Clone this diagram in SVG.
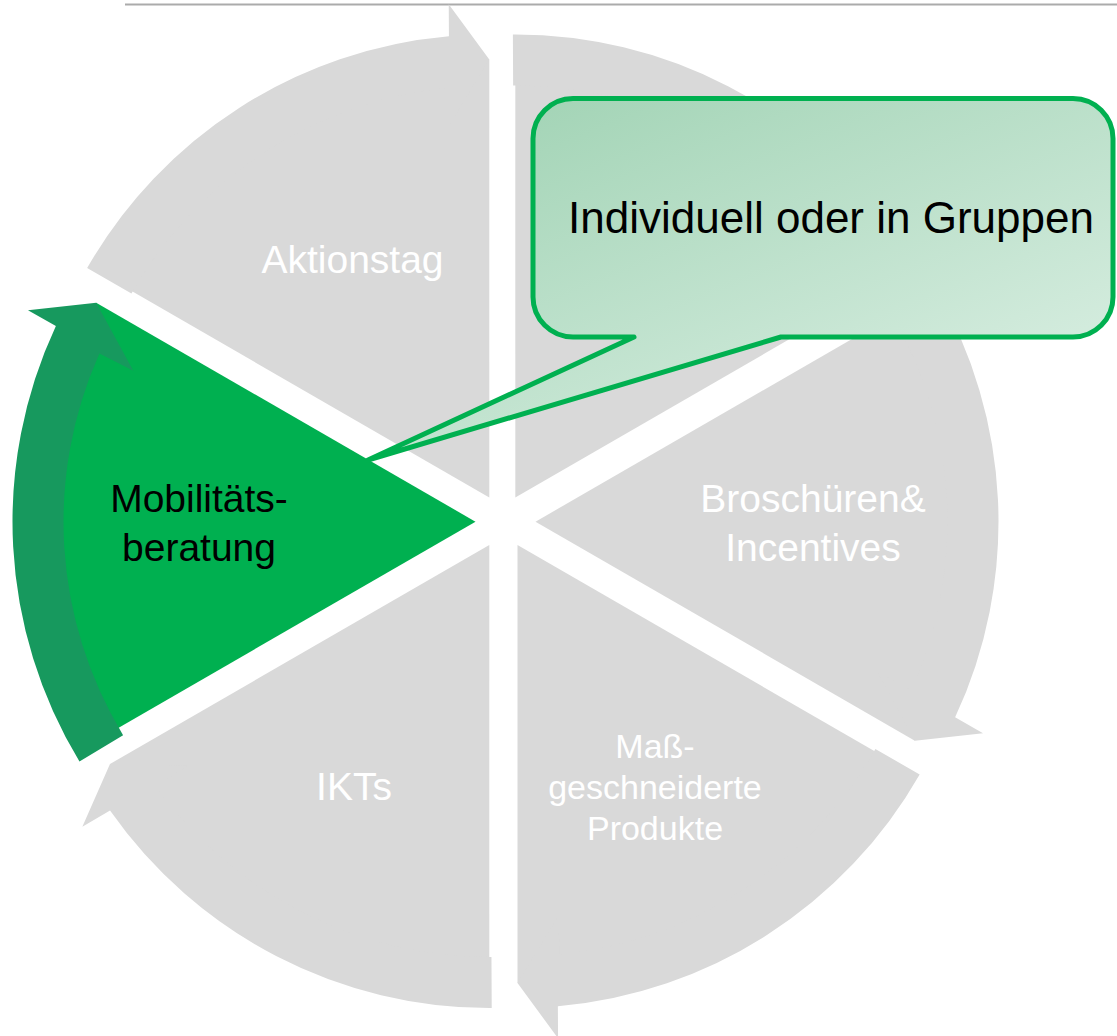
<svg xmlns="http://www.w3.org/2000/svg" width="1117" height="1036" viewBox="0 0 1117 1036">
<style>
.seg{fill:#D9D9D9}
.lbl{font-family:"Liberation Sans",Arial,sans-serif;font-size:39px;fill:#FFFFFF;text-anchor:middle}
.sm{font-size:34px}
.dark{fill:#000000}
.call{fill:url(#cg);stroke:#00B050;stroke-width:5;stroke-linejoin:round}
</style>
<defs>
<path id="pie" d="M0,0 L438,0 A438,438 0 0 1 219,379.32 Z"/>
<path id="band" d="M462.99,-2.42 A463,463 0 0 1 265.57,379.26 L281.79,406.96 L219,379.32 L220.89,301.80 L241.58,333.74 A412,412 0 0 0 411.99,-2.16 Z"/>
<path id="bandG" d="M462.90,-9.70 A463,463 0 0 1 265.57,379.26 L281.79,406.96 L219,379.32 L220.89,301.80 L241.58,333.74 A412,412 0 0 0 411.91,-8.63 Z"/>
<linearGradient id="cg" gradientUnits="userSpaceOnUse" x1="533" y1="98" x2="695" y2="504">
<stop offset="0" stop-color="#A3D4B6"/>
<stop offset="1" stop-color="#D4ECDE"/>
</linearGradient>
</defs>
<g id="top-rule"><line x1="125" y1="4.5" x2="1117" y2="4.5" stroke="#ABABAB" stroke-width="2"/></g>
<g id="node-top-right">
<g transform="translate(515.3,497.5) rotate(270)"><use href="#pie" class="seg"/><use href="#band" class="seg"/></g>
</g>
<g id="node-broschueren">
<g transform="translate(535.5,521.7) rotate(330)"><use href="#pie" class="seg"/><use href="#band" class="seg"/></g>
<text class="lbl" x="813" y="512">Broschüren&amp;</text>
<text class="lbl" x="813" y="561">Incentives</text>
</g>
<g id="node-massgeschneidert">
<g transform="translate(517.5,545) rotate(30)"><use href="#pie" class="seg"/><use href="#band" class="seg"/></g>
<text class="lbl sm" x="655" y="758">Maß-</text>
<text class="lbl sm" x="655" y="799">geschneiderte</text>
<text class="lbl sm" x="655" y="840">Produkte</text>
</g>
<g id="node-ikts">
<g transform="translate(489.3,545) rotate(90)"><use href="#pie" class="seg"/><use href="#band" class="seg"/></g>
<text class="lbl" x="354" y="800">IKTs</text>
</g>
<g id="node-mobilitaetsberatung">
<g transform="translate(475.5,521.7) rotate(150)"><use href="#pie" fill="#00B050"/><use href="#bandG" fill="#17995E"/></g>
<text class="lbl dark" x="199" y="512">Mobilitäts-</text>
<text class="lbl dark" x="199" y="561">beratung</text>
</g>
<g id="node-aktionstag">
<g transform="translate(489.3,497.5) rotate(210)"><use href="#pie" class="seg"/><use href="#band" class="seg"/></g>
<text class="lbl" x="352.5" y="273">Aktionstag</text>
</g>
<g id="callout">
<path class="call" d="M573,98.5 H1073 A40,40 0 0 1 1113,138.5 V297 A40,40 0 0 1 1073,337 H781 L368,460 L634,337 H573 A40,40 0 0 1 533,297 V138.5 A40,40 0 0 1 573,98.5 Z"/>
<text x="831" y="233" font-family="Liberation Sans, Arial, sans-serif" font-size="44" fill="#000000" text-anchor="middle">Individuell oder in Gruppen</text>
</g>
</svg>
